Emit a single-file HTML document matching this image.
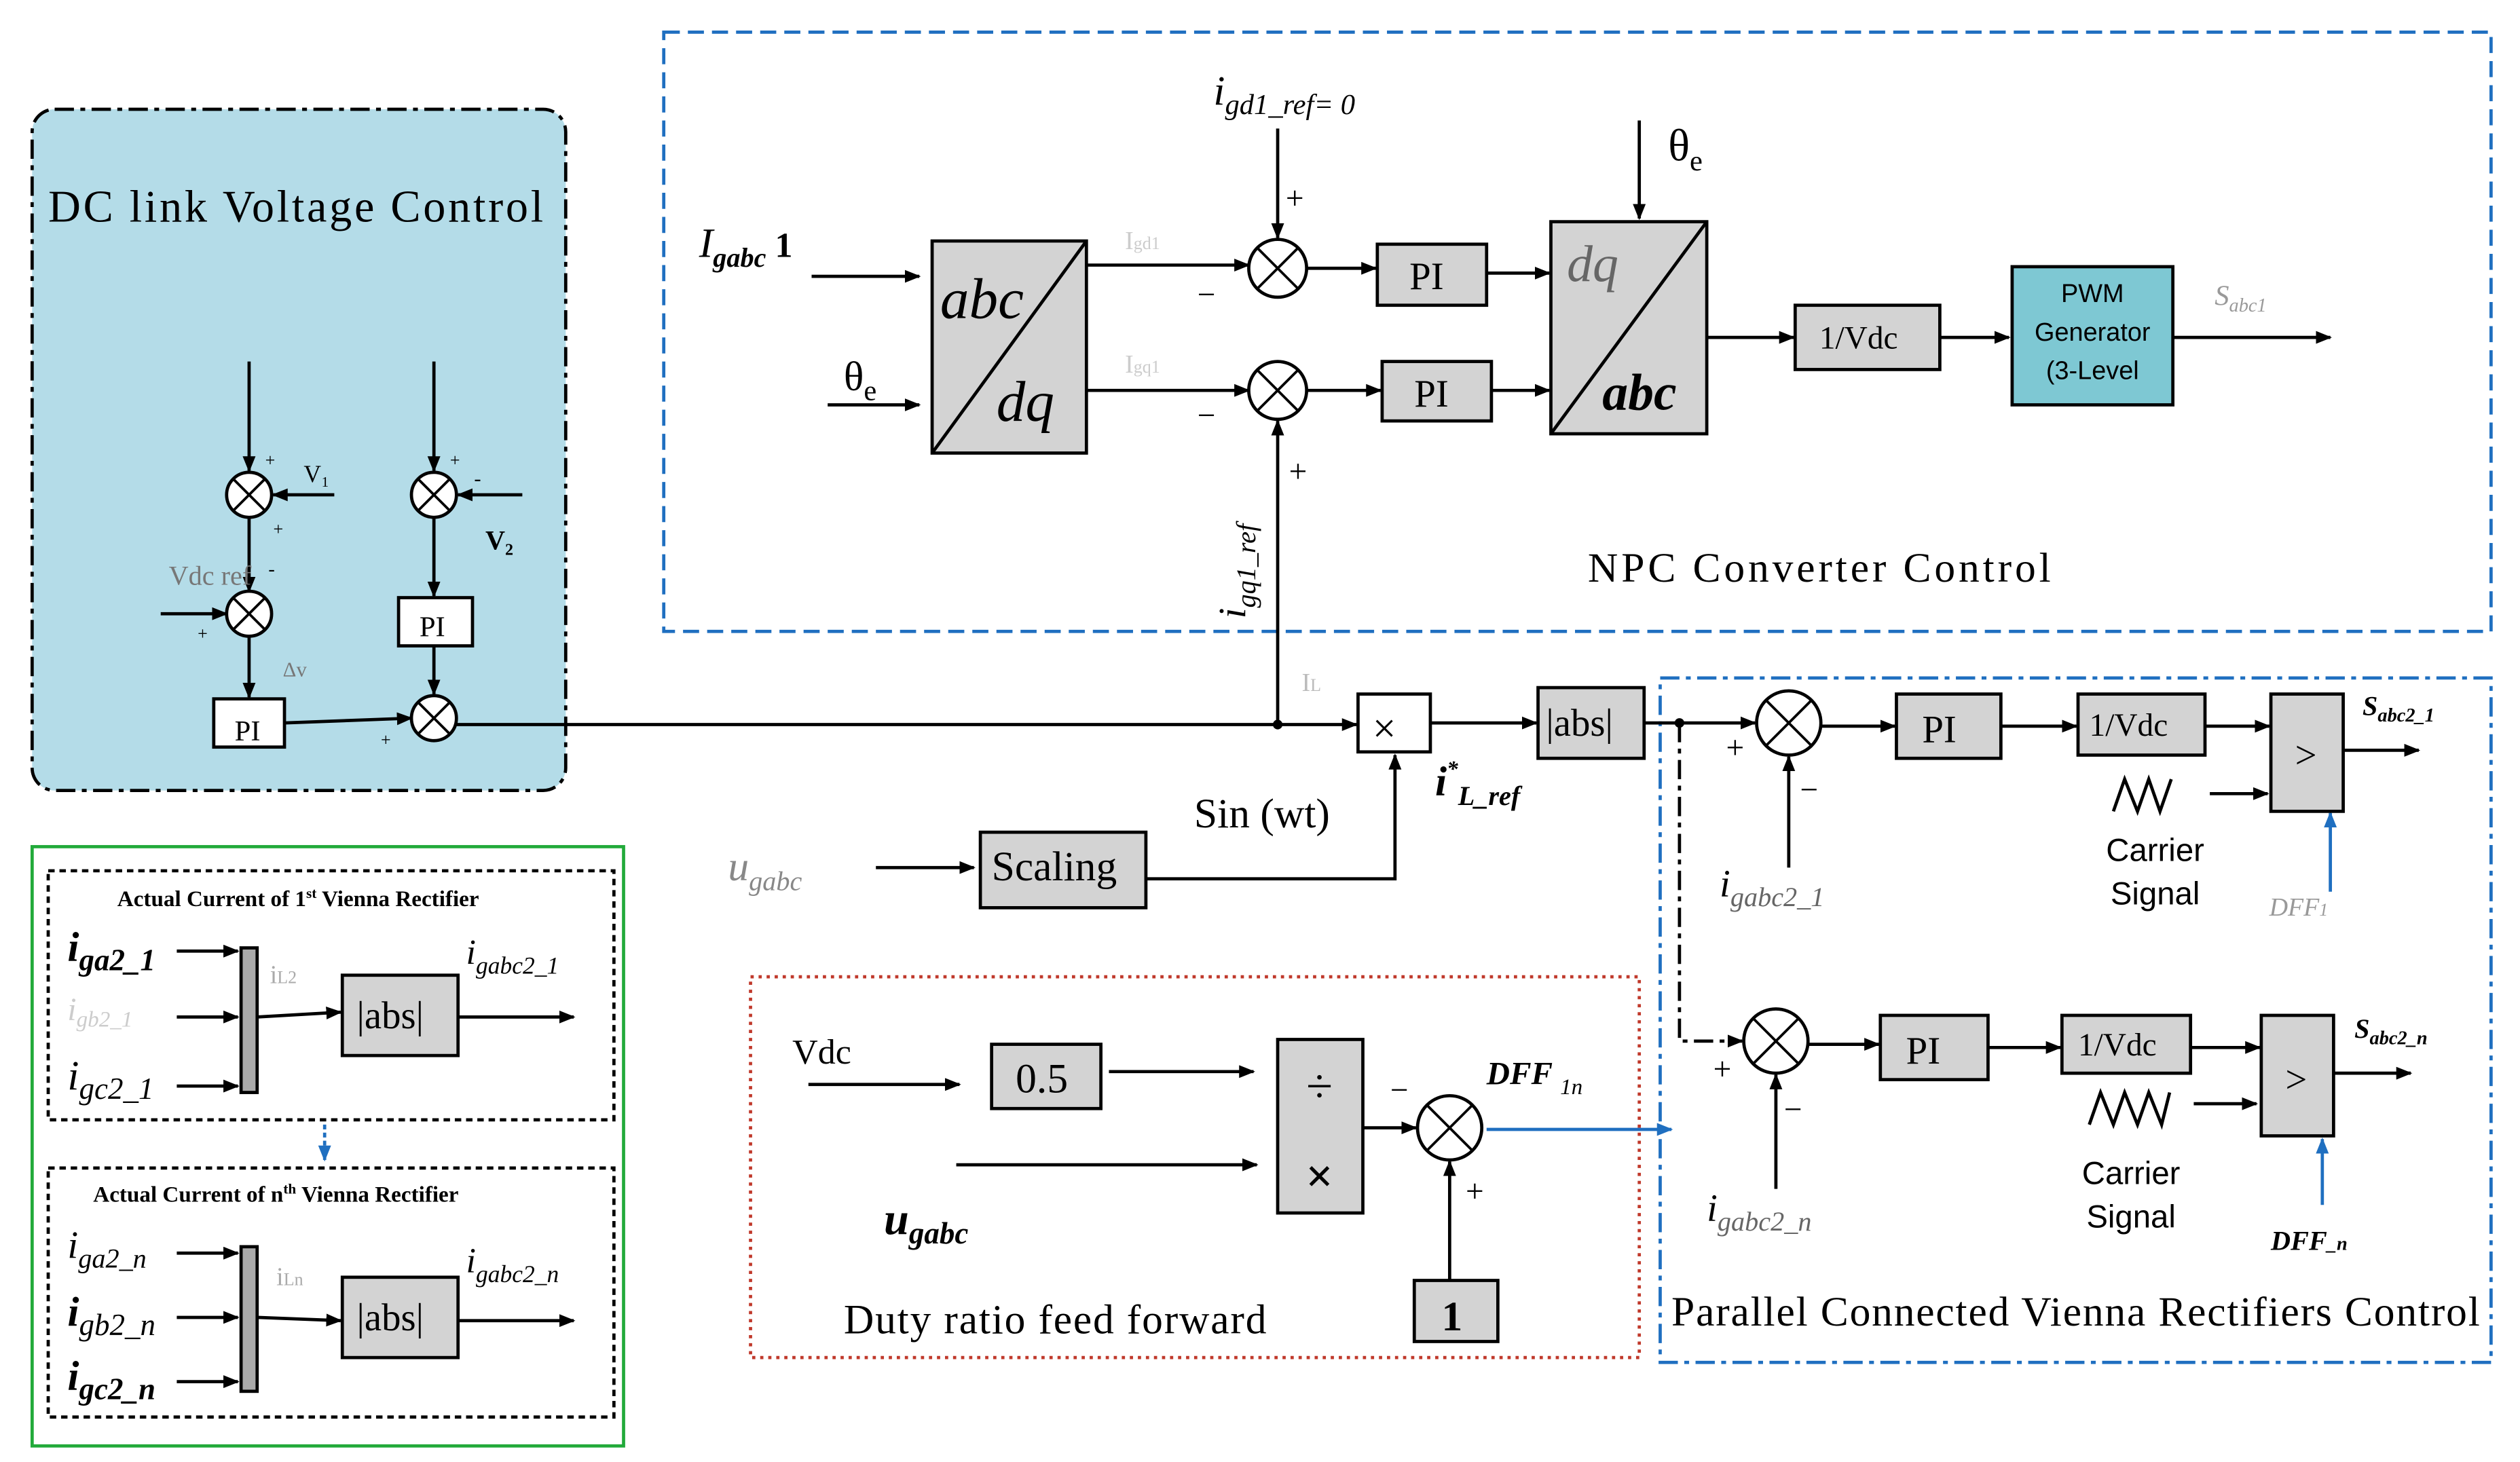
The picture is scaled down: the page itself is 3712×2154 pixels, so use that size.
<!DOCTYPE html>
<html><head><meta charset="utf-8"><style>
html,body{margin:0;padding:0;background:#fff;}
svg{display:block;}
text{font-family:"Liberation Serif",serif;}
.s{font-family:"Liberation Sans",sans-serif;}
</style></head><body>
<svg width="3712" height="2154" viewBox="0 0 1568 910" preserveAspectRatio="none" xmlns="http://www.w3.org/2000/svg">
<defs>
<marker id="a" markerWidth="10" markerHeight="8" refX="9" refY="4" orient="auto" markerUnits="userSpaceOnUse"><path d="M0,0 L10,4 L0,8 z" fill="#000"/></marker>
<marker id="b" markerWidth="10" markerHeight="8" refX="9" refY="4" orient="auto" markerUnits="userSpaceOnUse"><path d="M0,0 L10,4 L0,8 z" fill="#1f6fc0"/></marker>
</defs>
<g stroke="#000" stroke-width="2" fill="none">
<rect x="20" y="68" width="332" height="424" rx="14" fill="#b4dce8" stroke-dasharray="12,4,3,4"/>
<rect x="413" y="20" width="1137" height="373" stroke="#1f6fc0" stroke-dasharray="10,5"/>
<rect x="1033" y="422" width="517" height="426" stroke="#1f6fc0" stroke-dasharray="12,4,3,4"/>
<rect x="467" y="608" width="553" height="237" stroke="#c0392b" stroke-dasharray="2,3"/>
<rect x="20" y="527" width="368" height="373" stroke="#22aa3a"/>
<rect x="30" y="542" width="352" height="155" stroke-dasharray="4,3"/>
<rect x="30" y="727" width="352" height="155" stroke-dasharray="4,3"/>
</g>
<g stroke="#000" stroke-width="2" fill="none" marker-end="url(#a)">
<line x1="155" y1="225" x2="155" y2="293"/>
<line x1="155" y1="322" x2="155" y2="368"/>
<line x1="155" y1="396" x2="155" y2="434"/>
<line x1="208" y1="308" x2="170" y2="308"/>
<line x1="100" y1="382" x2="141" y2="382"/>
<line x1="270" y1="225" x2="270" y2="293"/>
<line x1="325" y1="308" x2="285" y2="308"/>
<line x1="270" y1="322" x2="270" y2="371"/>
<line x1="270" y1="402" x2="270" y2="432"/>
<line x1="177" y1="450" x2="256" y2="447"/>
<line x1="284" y1="451" x2="844" y2="451"/>
<line x1="505" y1="172" x2="572" y2="172"/>
<line x1="515" y1="252" x2="572" y2="252"/>
<line x1="676" y1="165" x2="777" y2="165"/>
<line x1="676" y1="243" x2="777" y2="243"/>
<line x1="813" y1="167" x2="856" y2="167"/>
<line x1="813" y1="243" x2="859" y2="243"/>
<line x1="925" y1="170" x2="964" y2="170"/>
<line x1="928" y1="243" x2="964" y2="243"/>
<line x1="795" y1="80" x2="795" y2="148"/>
<line x1="1020" y1="75" x2="1020" y2="136"/>
<line x1="1062" y1="210" x2="1116" y2="210"/>
<line x1="1207" y1="210" x2="1250" y2="210"/>
<line x1="1352" y1="210" x2="1450" y2="210"/>
<line x1="795" y1="451" x2="795" y2="262"/>
<line x1="890" y1="450" x2="956" y2="450"/>
<line x1="545" y1="540" x2="606" y2="540"/>
<polyline points="713,547 868,547 868,470"/>
<line x1="1023" y1="450" x2="1092" y2="450"/>
<line x1="1133" y1="452" x2="1179" y2="452"/>
<line x1="1245" y1="452" x2="1292" y2="452"/>
<line x1="1372" y1="452" x2="1412" y2="452"/>
<line x1="1458" y1="467" x2="1505" y2="467"/>
<line x1="1375" y1="494" x2="1411" y2="494"/>
<line x1="1113" y1="540" x2="1113" y2="471"/>
<polyline points="1045,450 1045,648 1084,648" stroke-dasharray="12,4,3,4"/>
<line x1="1125" y1="650" x2="1169" y2="650"/>
<line x1="1237" y1="652" x2="1282" y2="652"/>
<line x1="1363" y1="652" x2="1406" y2="652"/>
<line x1="1452" y1="668" x2="1500" y2="668"/>
<line x1="1365" y1="687" x2="1404" y2="687"/>
<line x1="1105" y1="740" x2="1105" y2="669"/>
<line x1="503" y1="675" x2="597" y2="675"/>
<line x1="690" y1="667" x2="780" y2="667"/>
<line x1="595" y1="725" x2="782" y2="725"/>
<line x1="848" y1="702" x2="881" y2="702"/>
<line x1="902" y1="797" x2="902" y2="723"/>
<line x1="110" y1="592" x2="148" y2="592"/>
<line x1="110" y1="633" x2="148" y2="633"/>
<line x1="110" y1="676" x2="148" y2="676"/>
<line x1="160" y1="633" x2="212" y2="630"/>
<line x1="285" y1="633" x2="357" y2="633"/>
<line x1="110" y1="780" x2="148" y2="780"/>
<line x1="110" y1="820" x2="148" y2="820"/>
<line x1="110" y1="860" x2="148" y2="860"/>
<line x1="160" y1="820" x2="212" y2="822"/>
<line x1="285" y1="822" x2="357" y2="822"/>
</g>
<g stroke="#1f6fc0" stroke-width="2" fill="none" marker-end="url(#b)">
<line x1="1450" y1="555" x2="1450" y2="506"/>
<line x1="1445" y1="750" x2="1445" y2="709"/>
<line x1="925" y1="703" x2="1040" y2="703"/>
<line x1="202" y1="700" x2="202" y2="722" stroke-dasharray="3,2"/>
</g>
<circle cx="795" cy="451" r="3"/><circle cx="1045" cy="450" r="3"/>
<g fill="#fff" stroke="#000" stroke-width="2">
<circle cx="155" cy="308" r="14"/><circle cx="155" cy="382" r="14"/><circle cx="270" cy="308" r="14"/><circle cx="270" cy="447" r="14"/>
<circle cx="795" cy="167" r="18"/><circle cx="795" cy="243" r="18"/>
<circle cx="1113" cy="450" r="20"/><circle cx="1105" cy="648" r="20"/><circle cx="902" cy="702" r="20"/>
</g>
<g stroke="#000" stroke-width="1.6">
<path d="M145,298 l20,20 M165,298 l-20,20"/><path d="M145,372 l20,20 M165,372 l-20,20"/><path d="M260,298 l20,20 M280,298 l-20,20"/><path d="M260,437 l20,20 M280,437 l-20,20"/>
<path d="M782,154 l26,26 M808,154 l-26,26"/><path d="M782,230 l26,26 M808,230 l-26,26"/>
<path d="M1099,436 l28,28 M1127,436 l-28,28"/><path d="M1091,634 l28,28 M1119,634 l-28,28"/><path d="M888,688 l28,28 M916,688 l-28,28"/>
</g>
<g stroke="#000" stroke-width="2">
<rect x="133" y="435" width="44" height="30" fill="#fff"/>
<rect x="248" y="372" width="46" height="30" fill="#fff"/>
<rect x="580" y="150" width="96" height="132" fill="#d3d3d3"/><line x1="580" y1="282" x2="676" y2="150"/>
<rect x="965" y="138" width="97" height="132" fill="#d3d3d3"/><line x1="965" y1="270" x2="1062" y2="138"/>
<rect x="857" y="152" width="68" height="38" fill="#d3d3d3"/>
<rect x="860" y="225" width="68" height="37" fill="#d3d3d3"/>
<rect x="1117" y="190" width="90" height="40" fill="#d3d3d3"/>
<rect x="1252" y="166" width="100" height="86" fill="#7ec8d3"/>
<rect x="845" y="432" width="45" height="36" fill="#fff"/>
<rect x="957" y="428" width="66" height="44" fill="#d3d3d3"/>
<rect x="610" y="518" width="103" height="47" fill="#d3d3d3"/>
<rect x="1180" y="432" width="65" height="40" fill="#d3d3d3"/>
<rect x="1293" y="432" width="79" height="38" fill="#d3d3d3"/>
<rect x="1413" y="432" width="45" height="73" fill="#d3d3d3"/>
<rect x="1170" y="632" width="67" height="40" fill="#d3d3d3"/>
<rect x="1283" y="632" width="80" height="36" fill="#d3d3d3"/>
<rect x="1407" y="632" width="45" height="75" fill="#d3d3d3"/>
<rect x="617" y="650" width="68" height="40" fill="#d3d3d3"/>
<rect x="795" y="647" width="53" height="108" fill="#d3d3d3"/>
<rect x="880" y="797" width="52" height="38" fill="#d3d3d3"/>
<rect x="150" y="590" width="10" height="90" fill="#aaa"/>
<rect x="150" y="776" width="10" height="90" fill="#aaa"/>
<rect x="213" y="607" width="72" height="50" fill="#d3d3d3"/>
<rect x="213" y="795" width="72" height="50" fill="#d3d3d3"/>
</g>
<g stroke="#000" stroke-width="2" fill="none">
<polyline points="1315,505 1322,485 1330,505 1337,485 1344,505 1351,485"/>
<polyline points="1300,700 1307,680 1315,700 1322,680 1330,700 1337,680 1345,700 1350,680"/>
</g>
<g fill="#000">
<text x="30" y="138" font-size="28" textLength="308" lengthAdjust="spacing">DC link Voltage  Control</text>
<text x="189" y="300" font-size="15">V₁</text>
<text x="302" y="342" font-size="17" font-weight="bold">V₂</text>
<text x="105" y="364" font-size="17" fill="#777">Vdc ref</text>
<text x="176" y="421" font-size="13" fill="#777">Δv</text>
<text x="165" y="290" font-size="11">+</text><text x="170" y="333" font-size="11">+</text><text x="167" y="358" font-size="12">-</text><text x="123" y="398" font-size="11">+</text>
<text x="280" y="290" font-size="11">+</text><text x="295" y="302" font-size="13">-</text><text x="237" y="464" font-size="11">+</text>
<text x="146" y="461" font-size="18">PI</text><text x="261" y="396" font-size="18">PI</text>
<text x="435" y="160" font-size="26" font-style="italic">I<tspan font-size="17" dy="6" font-weight="bold">gabc</tspan><tspan font-weight="bold" font-style="normal" dy="-6" font-size="22"> 1</tspan></text>
<text x="525" y="243" font-size="26">θ<tspan font-size="18" dy="6">e</tspan></text>
<text x="585" y="198" font-size="36" font-style="italic">abc</text>
<text x="620" y="262" font-size="36" font-style="italic">dq</text>
<text x="975" y="175" font-size="32" font-style="italic" fill="#666">dq</text>
<text x="997" y="255" font-size="32" font-style="italic" font-weight="bold">abc</text>
<text x="1038" y="100" font-size="28">θ<tspan font-size="18" dy="6">e</tspan></text>
<text x="755" y="65" font-size="26" font-style="italic">i<tspan font-size="18" dy="6">gd1_ref= 0</tspan></text>
<text x="800" y="130" font-size="20">+</text><text x="745" y="190" font-size="20">−</text><text x="745" y="265" font-size="20">−</text><text x="802" y="300" font-size="20">+</text>
<text x="700" y="155" font-size="16" fill="#ccc">I<tspan font-size="11">gd1</tspan></text>
<text x="700" y="232" font-size="16" fill="#ccc">I<tspan font-size="11">gq1</tspan></text>
<text x="877" y="180" font-size="24">PI</text><text x="880" y="253" font-size="24">PI</text>
<text x="1132" y="217" font-size="20">1/Vdc</text>
<text class="s" x="1302" y="188" font-size="16" text-anchor="middle">PWM</text>
<text class="s" x="1302" y="212" font-size="16" text-anchor="middle">Generator</text>
<text class="s" x="1302" y="236" font-size="16" text-anchor="middle">(3-Level</text>
<text x="1378" y="190" font-size="18" font-style="italic" fill="#999">S<tspan font-size="12" dy="4">abc1</tspan></text>
<text x="988" y="362" font-size="26" textLength="288" lengthAdjust="spacing">NPC Converter Control</text>
<text x="0" y="0" font-size="24" font-style="italic" transform="translate(775,385) rotate(-90)">i<tspan font-size="17" dy="6">gq1_ref</tspan></text>
<text x="810" y="430" font-size="16" fill="#bbb">I<tspan font-size="11">L</tspan></text>
<text x="854" y="462" font-size="26">×</text>
<text x="962" y="458" font-size="24">|abs|</text>
<text x="743" y="515" font-size="26">Sin (wt)</text>
<text x="893" y="495" font-size="26" font-style="italic" font-weight="bold">i<tspan font-size="14" dy="-12">*</tspan><tspan font-size="17" dy="18">L_ref</tspan></text>
<text x="617" y="548" font-size="26">Scaling</text>
<text x="453" y="548" font-size="26" font-style="italic" fill="#888">u<tspan font-size="17" dy="6">gabc</tspan></text>
<text x="1196" y="462" font-size="24">PI</text><text x="1186" y="662" font-size="24">PI</text>
<text x="1300" y="458" font-size="20">1/Vdc</text><text x="1293" y="657" font-size="20">1/Vdc</text>
<text x="1428" y="478" font-size="24">&gt;</text><text x="1422" y="680" font-size="24">&gt;</text>
<text x="1470" y="445" font-size="17" font-weight="bold" font-style="italic">S<tspan font-size="12" dy="4">abc2_1</tspan></text>
<text x="1465" y="646" font-size="17" font-weight="bold" font-style="italic">S<tspan font-size="12" dy="4">abc2_n</tspan></text>
<text x="1341" y="536" font-size="20" text-anchor="middle" class="s">Carrier</text>
<text x="1341" y="563" font-size="20" text-anchor="middle" class="s">Signal</text>
<text x="1326" y="737" font-size="20" text-anchor="middle" class="s">Carrier</text>
<text x="1326" y="764" font-size="20" text-anchor="middle" class="s">Signal</text>
<text x="1412" y="570" font-size="16" font-style="italic" fill="#999">DFF<tspan font-size="11">1</tspan></text>
<text x="1413" y="778" font-size="17" font-style="italic" font-weight="bold">DFF<tspan font-size="12">_n</tspan></text>
<text x="1070" y="558" font-size="24" font-style="italic">i<tspan font-size="17" dy="6" fill="#666">gabc2_1</tspan></text>
<text x="1062" y="760" font-size="24" font-style="italic">i<tspan font-size="17" dy="6" fill="#666">gabc2_n</tspan></text>
<text x="1074" y="472" font-size="20">+</text><text x="1120" y="498" font-size="20">−</text>
<text x="1066" y="672" font-size="20">+</text><text x="1110" y="697" font-size="20">−</text>
<text x="1040" y="825" font-size="26" textLength="503" lengthAdjust="spacing">Parallel Connected Vienna Rectifiers Control</text>
<text x="493" y="662" font-size="22">Vdc</text>
<text x="632" y="680" font-size="26">0.5</text>
<text x="550" y="768" font-size="28" font-style="italic" font-weight="bold">u<tspan font-size="19" dy="6">gabc</tspan></text>
<text x="821" y="686" font-size="30" text-anchor="middle">÷</text>
<text x="821" y="742" font-size="30" text-anchor="middle" font-weight="bold">×</text>
<text x="865" y="685" font-size="20">−</text><text x="912" y="748" font-size="20">+</text>
<text x="925" y="675" font-size="20" font-style="italic" font-weight="bold">DFF <tspan font-size="14" dy="6" font-weight="normal">1n</tspan></text>
<text x="897" y="828" font-size="26" font-weight="bold">1</text>
<text x="525" y="830" font-size="26" textLength="263" lengthAdjust="spacing">Duty ratio feed forward</text>
<text x="73" y="564" font-size="14" font-weight="bold">Actual Current of 1<tspan font-size="9" dy="-5">st</tspan><tspan dy="5"> Vienna Rectifier</tspan></text>
<text x="58" y="748" font-size="14" font-weight="bold">Actual Current of n<tspan font-size="9" dy="-5">th</tspan><tspan dy="5">  Vienna Rectifier</tspan></text>
<text x="42" y="598" font-size="26" font-style="italic" font-weight="bold">i<tspan font-size="19" dy="6">ga2_1</tspan></text>
<text x="42" y="635" font-size="20" font-style="italic" fill="#ccc">i<tspan font-size="14" dy="4">gb2_1</tspan></text>
<text x="42" y="678" font-size="26" font-style="italic">i<tspan font-size="19" dy="6">gc2_1</tspan></text>
<text x="168" y="612" font-size="16" fill="#aaa">i<tspan font-size="11">L2</tspan></text>
<text x="222" y="640" font-size="24">|abs|</text>
<text x="290" y="600" font-size="22" font-style="italic">i<tspan font-size="15" dy="6">gabc2_1</tspan></text>
<text x="42" y="783" font-size="24" font-style="italic">i<tspan font-size="17" dy="6">ga2_n</tspan></text>
<text x="42" y="825" font-size="26" font-style="italic" font-weight="bold">i<tspan font-size="19" dy="6" font-weight="normal">gb2_n</tspan></text>
<text x="42" y="865" font-size="26" font-style="italic" font-weight="bold">i<tspan font-size="19" dy="6">gc2_n</tspan></text>
<text x="172" y="800" font-size="16" fill="#aaa">i<tspan font-size="11">Ln</tspan></text>
<text x="222" y="828" font-size="24">|abs|</text>
<text x="290" y="792" font-size="22" font-style="italic">i<tspan font-size="15" dy="6">gabc2_n</tspan></text>
</g>
</svg>
</body></html>
